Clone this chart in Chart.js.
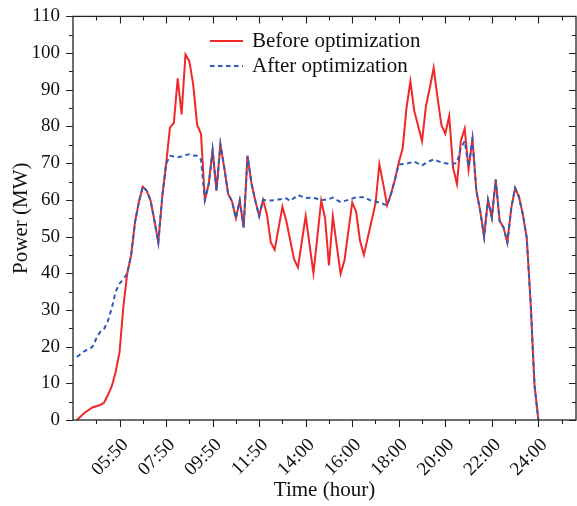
<!DOCTYPE html>
<html>
<head>
<meta charset="utf-8">
<script src="https://cdn.jsdelivr.net/npm/chart.js@4.4.1/dist/chart.umd.min.js"></script>
<style>
  html, body { margin: 0; padding: 0; background: #fff; }
</style>
</head>
<body>
<canvas id="chart-power" width="577" height="506"></canvas>
<script>
// tick labels of the time axis (one every 12 steps of 10 min)
const timeLabels = ['05:50', '07:50', '09:50', '11:50', '14:00', '16:00', '18:00', '20:00', '22:00', '24:00'];

// Before optimization - step index / MW
const beforeX = [1, 3, 5, 7, 8, 9, 10, 11,
  12, 13, 14, 15, 16, 17, 18, 19, 20, 21, 22, 23, 24, 25, 26, 27, 28, 29, 30, 31, 32, 33,
  34, 35, 36, 37, 38, 39, 40, 41, 42, 43, 44, 45, 46, 47, 48, 49, 50, 51, 52,
  54, 55, 57, 58, 60, 62, 64, 65, 66, 67, 69, 70, 72, 73, 74, 75, 78,
  79, 80, 81, 82, 83, 84, 85, 86, 87, 88, 89, 90, 91, 92, 93, 94, 95, 96, 97, 98, 99,
  100, 101, 102, 103, 104, 105, 106, 107, 108, 109, 110, 111, 112, 113, 114, 115, 116, 117, 118, 119, 120];
const beforeY = [0, 2.0, 3.4, 4.1, 4.7, 6.8, 9.2, 13.1,
  18.5, 31, 40, 45, 54, 59.5, 63.6, 62.5, 59.8, 54.3, 48.4, 60.7, 69.7, 79.7, 81.0, 93.1, 83.3, 99.6, 97.8, 91.4, 80.5, 78.0,
  60.0, 64.3, 73.5, 62.5, 75.1, 68.8, 61.6, 59.6, 55.0, 59.8, 52.5, 72.0, 64.6, 59.8, 55.6, 60.0, 56.1, 48.4, 46.4,
  58.1, 54.3, 43.8, 41.6, 55.6, 40.0, 59.8, 55.0, 42.1, 55.5, 39.8, 43.5, 59.3, 56.8, 48.9, 45.0, 59.0,
  69.7, 64.3, 58.5, 61.6, 65.5, 70.2, 74.0, 85.1, 92.3, 84.2, 80.1, 76.0, 85.5, 90.5, 96.0, 87.8, 80.4, 78.0, 82.8, 68.8, 64.3,
  76.0, 79.4, 68.3, 76.6, 62.5, 57.0, 50.0, 60.0, 55.2, 65.5, 54.3, 52.5, 48.4, 57.7, 63.2, 60.8, 56.0, 49.6, 32, 9.5, 0];

// After optimization
const afterX = [1, 3, 5, 6, 7, 8, 9, 10, 11, 12, 13, 14,
  15, 16, 17, 18, 19, 20, 21, 22, 23, 24, 25, 26, 27, 28, 29, 30, 31, 32, 33,
  34, 35, 36, 37, 38, 39, 40, 41, 42, 43, 44, 45, 46, 47, 48, 49,
  51, 53, 55, 56, 58, 60, 62, 64, 66, 67, 69, 71, 73, 75, 77, 79, 81, 82, 83, 84,
  86, 88, 90, 92, 93, 95, 97, 99, 100, 101, 102, 103,
  104, 105, 106, 107, 108, 109, 110, 111, 112, 113, 114, 115, 116, 117, 118, 119, 120];
const afterY = [17.2, 18.8, 19.9, 22.2, 24.0, 24.8, 27.0, 30.5, 35.0, 37.2, 38.4, 40.0,
  45, 54, 59.5, 63.6, 62.5, 59.8, 54.3, 48.4, 60.7, 69.8, 72.0, 71.8, 71.6, 71.8, 72.2, 72.4, 72.1, 72.0, 71.0,
  60.0, 64.3, 73.5, 62.5, 75.1, 68.8, 61.6, 59.6, 55.0, 59.8, 52.5, 72.0, 64.6, 59.8, 55.6, 60.0,
  59.8, 60.1, 60.4, 59.7, 61.3, 60.5, 60.6, 59.9, 60.2, 60.6, 59.4, 60.0, 60.7, 60.7, 59.7, 59.3, 58.5, 61.6, 65.5, 69.6,
  69.9, 70.4, 69.4, 70.6, 71.0, 70.2, 69.8, 70.0, 74.2, 76.0, 69.0, 76.5,
  62.5, 57.0, 50.0, 60.0, 55.2, 65.5, 54.3, 52.5, 48.4, 57.7, 63.2, 60.8, 56.0, 49.6, 32, 9.5, 0];

const FONT = 'Liberation Serif';
const X_MAX = 129.7;

const toPoints = (xs, ys) => xs.map((x, i) => ({ x, y: ys[i] }));

// рамка + засечки на всех четырёх сторонах
const frameTicksPlugin = {
  id: 'frameTicks',
  afterDraw(chart) {
    const { ctx, chartArea: a, scales: { x, y } } = chart;
    ctx.save();
    ctx.strokeStyle = '#222';
    ctx.lineWidth = 1.3;
    ctx.strokeRect(a.left, a.top, a.right - a.left, a.bottom - a.top);
    ctx.lineWidth = 1.1;
    ctx.beginPath();
    for (let v = 6; v < X_MAX; v += 6) {
      const px = Math.round(x.getPixelForValue(v)) + 0.5;
      const len = v % 12 === 0 ? 7 : 4;
      ctx.moveTo(px, a.bottom); ctx.lineTo(px, a.bottom + len);
      ctx.moveTo(px, a.top); ctx.lineTo(px, a.top + len);
    }
    for (let v = 0; v <= 110; v += 5) {
      const py = Math.round(y.getPixelForValue(v)) + 0.5;
      const len = v % 10 === 0 ? 7 : 4;
      ctx.moveTo(a.left - len, py); ctx.lineTo(a.left, py);
      ctx.moveTo(a.right - len, py); ctx.lineTo(a.right, py);
    }
    ctx.stroke();
    ctx.restore();
  }
};

// легенда внутри области графика
const innerLegendPlugin = {
  id: 'innerLegend',
  afterDraw(chart) {
    const { ctx } = chart;
    const rows = [
      { ds: chart.data.datasets[0], y: 41 },
      { ds: chart.data.datasets[1], y: 66 }
    ];
    ctx.save();
    ctx.font = '21px "' + FONT + '"';
    ctx.textBaseline = 'middle';
    ctx.fillStyle = '#111';
    rows.forEach(({ ds, y }) => {
      ctx.strokeStyle = ds.borderColor;
      ctx.lineWidth = ds.borderWidth;
      ctx.setLineDash(ds.borderDash || []);
      ctx.beginPath();
      ctx.moveTo(210, y);
      ctx.lineTo(243, y);
      ctx.stroke();
      ctx.setLineDash([]);
      ctx.fillText(ds.label, 252, y);
    });
    ctx.restore();
  }
};

new Chart(document.getElementById('chart-power'), {
  type: 'line',
  data: {
    datasets: [
      {
        label: 'Before optimization',
        data: toPoints(beforeX, beforeY),
        borderColor: '#f02828',
        borderWidth: 2,
        pointRadius: 0,
        tension: 0,
        fill: false,
        order: 1
      },
      {
        label: 'After optimization',
        data: toPoints(afterX, afterY),
        borderColor: '#2f5cb8',
        borderWidth: 2,
        borderDash: [4.5, 3.5],
        pointRadius: 0,
        tension: 0,
        fill: false,
        order: 0
      }
    ]
  },
  options: {
    responsive: false,
    animation: false,
    layout: { padding: { top: 15, right: 1, left: 0, bottom: 0 } },
    scales: {
      x: {
        type: 'linear',
        min: 0,
        max: X_MAX,
        afterBuildTicks(scale) {
          scale.ticks = timeLabels.map((_, i) => ({ value: (i + 1) * 12 }));
        },
        afterFit(scale) { scale.height = 86; },
        ticks: {
          autoSkip: false,
          minRotation: 45,
          maxRotation: 45,
          padding: 6,
          labelOffset: 6,
          color: '#111',
          font: { family: FONT, size: 19 },
          callback: (value) => timeLabels[value / 12 - 1] || ''
        },
        grid: { display: false },
        border: { display: false },
        title: {
          display: true,
          text: 'Time (hour)',
          color: '#111',
          font: { family: FONT, size: 21 },
          padding: { top: 0, bottom: 3 }
        }
      },
      y: {
        min: 0,
        max: 110,
        afterFit(scale) { scale.width = 73; },
        ticks: {
          stepSize: 10,
          padding: 5,
          color: '#111',
          font: { family: FONT, size: 19 }
        },
        grid: { display: false },
        border: { display: false },
        title: {
          display: true,
          text: 'Power (MW)',
          color: '#111',
          font: { family: FONT, size: 21 },
          padding: { top: 9, bottom: 0 }
        }
      }
    },
    plugins: {
      legend: { display: false },
      tooltip: { enabled: false }
    }
  },
  plugins: [frameTicksPlugin, innerLegendPlugin]
});
</script>
</body>
</html>
